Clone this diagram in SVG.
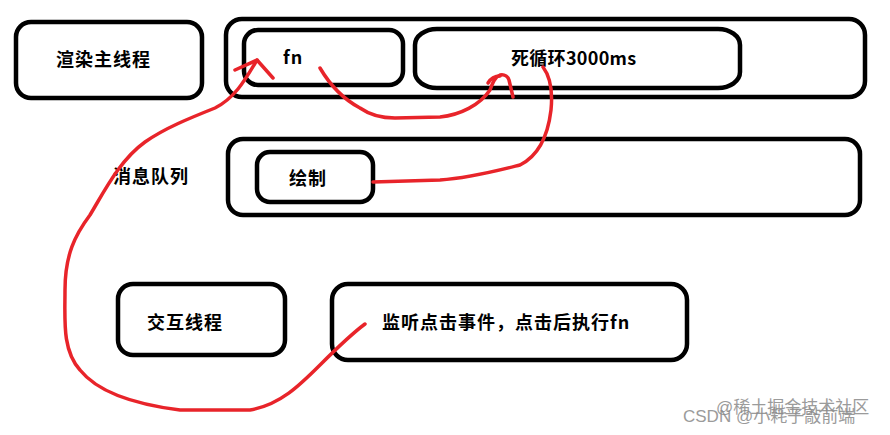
<svg xmlns="http://www.w3.org/2000/svg" width="890" height="435" viewBox="0 0 890 435">
<style>
.box{fill:#fff;stroke:#000;stroke-width:4.5}
.t{font-family:"Noto Sans CJK SC","Noto Sans",sans-serif;font-weight:bold;font-size:18px;letter-spacing:1px;fill:#000}
.red{fill:none;stroke:#e8242a;stroke-width:3.5;stroke-linecap:round;stroke-linejoin:round}
.wm{font-family:"Liberation Sans","Noto Sans CJK SC",sans-serif;font-size:17px;fill:#8a8a8a;opacity:0.85}
</style>
<rect width="890" height="435" fill="#fff"/>
<g id="render-main">
<rect class="box" x="16" y="22" width="186" height="76" rx="15"/>
<text class="t" x="56" y="66">渲染主线程</text>
</g>
<g id="main-container">
<rect class="box" x="226" y="19" width="639" height="78" rx="16"/>
</g>
<g id="fn">
<rect class="box" x="244" y="30" width="159" height="55" rx="14"/>
<text class="t" x="283" y="64">fn</text>
</g>
<g id="loop">
<rect class="box" x="415" y="29" width="325" height="59" rx="22" ry="16"/>
<text class="t" x="511" y="65" style="letter-spacing:0.3px">死循环3000ms</text>
</g>
<g id="queue-label">
<text class="t" x="113" y="183">消息队列</text>
</g>
<g id="queue">
<rect class="box" x="228" y="139" width="632" height="76" rx="15"/>
</g>
<g id="draw">
<rect class="box" x="257" y="152" width="116" height="50" rx="13"/>
<text class="t" x="289" y="185">绘制</text>
</g>
<g id="interact">
<rect class="box" x="118" y="284" width="167" height="71" rx="15"/>
<text class="t" x="147" y="329">交互线程</text>
</g>
<g id="listen">
<rect class="box" x="332" y="284" width="355" height="76" rx="16"/>
<text class="t" x="382" y="329">监听点击事件，点击后执行fn</text>
</g>
<g id="connectors">
<path class="red" d="M365,324 C350,335 335,350 320,365 C300,385 280,405 250,410 L180,410 C140,405 100,395 80,370 C62,350 65,320 65,290 C65,255 75,235 90,215 C105,190 120,160 145,142 C165,128 190,118 215,108 C235,98 245,80 257,60"/>
<path class="red" d="M235,70 L257,60 L273,78"/>
<path class="red" d="M320,68 C330,85 345,100 360,108 C370,115 380,118 395,118 L440,117 C460,115 480,105 490,90 C493,82 495,77 500,75 C505,74 508,77 509,80 L513,97"/>
<path class="red" d="M488,83 C491,78 495,76 500,76"/>
<path class="red" d="M373,182 L440,180 C470,178 500,170 520,165 C540,155 548,135 551,110 C553,90 549,75 543,67"/>
</g>
<text class="wm" x="716" y="413">@稀土掘金技术社区</text>
<text class="wm" x="683" y="422">CSDN @小耗子敲前端</text>
</svg>
